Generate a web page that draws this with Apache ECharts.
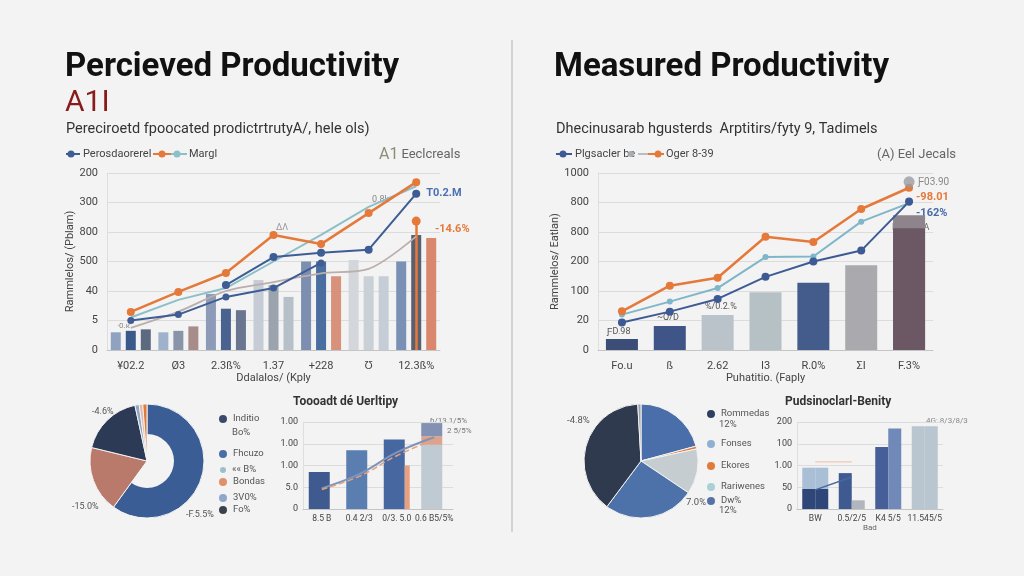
<!DOCTYPE html>
<html><head><meta charset="utf-8">
<script src="https://cdn.jsdelivr.net/npm/echarts@6/dist/echarts.min.js"></script>
<style>html,body{margin:0;padding:0;background:#f3f3f3}#c{width:1024px;height:576px}</style>
</head><body><div id="c"></div><script>
// ---------- data ----------
const leftCats = ['¥02.2', 'Ø3', '2.3ß%', '1.37', '+228', 'Ʊ', '12.3ß%'];
const leftYLabels = ['0', '5', '40', '500', '800', '300', '200'];
const leftBarA = [0.6, 0.6, 1.9, 2.37, 3.0, 3.05, 3.0];
const leftBarB = [0.65, 0.65, 1.4, 2.2, 3.0, 2.5, 3.9];
const leftBarC = [0.7, 0.8, 1.35, 1.8, 2.5, 2.5, 3.8];
const leftOrange = [1.29, 1.97, 2.61, 3.9, 3.59, 4.64, 5.69];
const leftNavyA = [1.0, 1.2, 1.8, 2.1, 2.95, null, null];
const leftNavyB = [null, null, 2.2, 3.15, 3.3, 3.4, 5.3];
const leftTeal = [1.1, 1.7, 2.1, 3.0, 3.9, 4.85, 5.55];
const leftGray = [0.75, 1.3, 2.0, 2.3, 2.6, 2.75, 3.85];
const leftStem = 4.37;

const rightCats = ['Fo.u', 'ß', '2.62', 'I3', 'R.0%', 'ΣI', 'F.3%'];
const rightYLabels = ['0', '20', '100', '200', '800', '800', '1000'];
const rightBars = [0.37, 0.81, 1.19, 1.96, 2.28, 2.87, 4.13];
const rightShadow = [null, null, null, null, null, null, 4.57];
const rightOrange = [1.31, 2.18, 2.45, 3.84, 3.66, 4.78, 5.5];
const rightTeal = [1.2, 1.64, 2.1, 3.15, 3.17, 4.35, 4.98];
const rightNavy = [0.93, 1.3, 1.73, 2.48, 3.0, 3.37, 5.03];
const rightGrayPoint = [null, null, null, null, null, null, 5.7];

const pieLNames = ['Fhcuzo', 'Bondas', 'Inditio', '3V0%', '«« B%', 'Fo%'];
const pieLValues = [60, 18.8, 17.8, 1.2, 1.0, 1.2];

const pieRNames = ['Dw%', 'Ekores', 'Rariwenes', 'Fonses', 'Rommedas', '·'];
const pieRValues = [20.8, 0.8, 12.8, 25.8, 38.9, 0.9];

const smallLCats = ['8.5 B', '0.4 2/3', '0/3. 5.0', '0.6 B5/5%'];
const smallLYLabels = ['0', '5.0', '1.00', '1.00', '1.00'];
const smallLMain = [1.7, 2.7, 3.2, 2.95];
const smallLSalmon = [null, null, null, 0.4];
const smallLSlate = [null, null, null, 0.6];
const smallLOrange = [null, null, 2.0, null];
const smallLLine = [0.95, 1.6, 2.6, 3.3];
const smallLOrangeLine = [0.9, 1.5, 2.45, 3.2];

const smallRCats = ['BW', '0.5/2/5', 'K4 5/5', '11.545/5'];
const smallRYLabels = ['0', '50', '1.00', '100', '200'];
const smallRColA = [0.92, 1.65, 2.85, 3.8];
const smallRColATop = [0.98, null, null, null];
const smallRColB = [0.92, 0.4, 3.7, 3.8];
const smallRColBTop = [0.98, null, null, null];
const smallRLine = [0.88, 1.47, null, null];
const smallROrangeLine = [2.17, 2.17, null, null];

// ---------- styles ----------
const FF = 'Roboto, "Liberation Sans", sans-serif';
const colA = ['#8fa3c0', '#9fb2cc', '#8d9bb8', '#c5ccd5', '#7d8fb0', '#d3d6da', '#7a90b5'];
const colB = ['#3b5a8c', '#8a94a8', '#4a6290', '#9aa3ae', '#4a6ea0', '#c9d0d6', '#5a6070'];
const colC = ['#5c6a80', '#a88c8a', '#6a7590', '#b6c0c8', '#d8917a', '#c5ced6', '#d9886e'];
const colR = ['#3c4d78', '#3f5587', '#b9c3c9', '#b6c1c5', '#435c8b', '#aaa9ad', '#6b5864'];
const colPieL = ['#3a5d96', '#b97a6c', '#2c3a55', '#8ea6c8', '#e3b8a6', '#e07a3a'];
const colPieR = ['#4a6ea9', '#e07b3c', '#c6cdd1', '#4d72aa', '#2f3a4f', '#9aa0a8'];
const colSLMain = ['#3e5a8f', '#5a7eb0', '#4767a0', '#bfcad3'];
const colSRA = ['#2f4678', '#3e5a90', '#465f98', '#b9c6d0'];
const colSRB = ['#2f4678', '#b1b5bd', '#7089b8', '#b9c6d0'];

const withColors = (vals, cols) => vals.map((v, i) => ({ value: v, itemStyle: { color: cols[i] } }));

const axisLbl = { color: '#444', fontSize: 11, fontFamily: FF };
const splitL = { show: true, lineStyle: { color: '#dcdcdc', width: 1 } };

function catAxis(idx, cats, name, gap) {
  return {
    type: 'category', gridIndex: idx, data: cats,
    axisLine: { lineStyle: { color: '#c4c4c4' } }, axisTick: { show: false },
    axisLabel: Object.assign({}, axisLbl, idx > 1 ? { fontSize: 8.5, margin: 5, interval: 0 } : { margin: 11, interval: 0 }),
    name: name || '', nameLocation: 'middle', nameGap: gap || 0,
    nameTextStyle: { color: '#444', fontSize: 11, fontFamily: FF }
  };
}
function valAxis(idx, labels, name, gap) {
  return {
    type: 'value', gridIndex: idx, min: 0, max: labels.length - 1, interval: 1,
    axisLine: { show: true, lineStyle: { color: '#dedede' } }, axisTick: { show: false },
    splitLine: splitL,
    axisLabel: Object.assign({}, axisLbl, idx > 1 ? { fontSize: 9, margin: 5 } : { margin: 9 }, { formatter: v => labels[v] }),
    name: name || '', nameLocation: 'middle', nameGap: gap || 0, nameRotate: 90,
    nameTextStyle: { color: '#444', fontSize: 11, fontFamily: FF }
  };
}
function T(x, y, text, size, color, weight, align) {
  return { type: 'text', x: x, y: y, silent: true,
    style: { text: text, fontSize: size, fill: color, fontFamily: FF, fontWeight: weight || 'normal',
      align: align || 'left', verticalAlign: 'middle' } };
}
function legLine(x1, x2, y, color, dotX) {
  return [
    { type: 'line', silent: true, shape: { x1: x1, y1: y, x2: x2, y2: y }, style: { stroke: color, lineWidth: 2 } },
    { type: 'circle', silent: true, shape: { cx: dotX, cy: y, r: 3.5 }, style: { fill: color } }
  ];
}
function pieLegend(name, x, y, color, size) {
  return {
    data: [{ name: name, itemStyle: { color: color } }], left: x, top: y,
    icon: 'circle', itemWidth: size || 10, itemHeight: size || 10, itemGap: 4, padding: 0,
    selectedMode: false, textStyle: { color: '#555', fontSize: 9.5, fontFamily: FF }
  };
}

const lineBase = (name, data, color, xi, extra) => Object.assign({
  type: 'line', name: name, data: data, xAxisIndex: xi, yAxisIndex: xi,
  lineStyle: { color: color, width: 2 }, itemStyle: { color: color },
  symbol: 'circle', symbolSize: 7, connectNulls: false, z: 5
}, extra || {});

const option = {
  backgroundColor: '#f3f3f3',
  animation: false,
  title: [
    { text: 'Percieved Productivity', left: 65, top: 51, padding: 0, textStyle: { fontSize: 33, fontWeight: 'bold', color: '#111', fontFamily: FF } },
    { text: 'A1I', left: 65, top: 88, padding: 0, textStyle: { fontSize: 30, fontWeight: 'normal', color: '#8a1b1b', fontFamily: FF } },
    { text: 'Perecirоetd fpoocated prodictrtrutyA/, hele ols)', left: 66, top: 122, padding: 0, textStyle: { fontSize: 14.5, fontWeight: 'normal', color: '#333', fontFamily: FF } },
    { text: 'Measured Productivity', left: 554, top: 51, padding: 0, textStyle: { fontSize: 33, fontWeight: 'bold', color: '#111', fontFamily: FF } },
    { text: 'Dhecinusarab hgusterds  Arptitirs/fyty 9, Tadimels', left: 556, top: 122, padding: 0, textStyle: { fontSize: 14.5, fontWeight: 'normal', color: '#333', fontFamily: FF } },
    { text: 'Toooadt dé Uerltipy', left: 293, top: 396, padding: 0, textStyle: { fontSize: 12, fontWeight: 'bold', color: '#333', fontFamily: FF } },
    { text: 'Pudsinoclarl-Benity', left: 785, top: 396, padding: 0, textStyle: { fontSize: 12, fontWeight: 'bold', color: '#333', fontFamily: FF } }
  ],
  legend: [
    pieLegend('Inditio', 217, 413, '#3a4a6a'),
    pieLegend('Fhcuzo', 217, 448, '#4a6fa8'),
    pieLegend('«« B%', 218, 465, '#9cc0c8', 8),
    pieLegend('Bondas', 217, 476, '#e0906a'),
    pieLegend('3V0%', 217, 492, '#8ea6c8'),
    pieLegend('Fo%', 217, 504, '#3c414c'),
    pieLegend('Rommedas', 705, 408, '#2f3f62'),
    pieLegend('Fonses', 705, 438, '#8fb0d0'),
    pieLegend('Ekores', 705, 460, '#e07b3c'),
    pieLegend('Rariwenes', 705, 481, '#a8d0d6'),
    pieLegend('Dw%', 705, 495, '#5673a8')
  ],
  grid: [
    { left: 107, top: 173, width: 333, height: 177 },
    { left: 598, top: 173, width: 335, height: 177 },
    { left: 303, top: 422, width: 150, height: 87 },
    { left: 797, top: 422, width: 146, height: 87 }
  ],
  xAxis: [
    catAxis(0, leftCats, 'Ddalalos/ (Kply', 20),
    catAxis(1, rightCats, 'Puhatitio. (Faply', 19),
    catAxis(2, smallLCats),
    catAxis(3, smallRCats)
  ],
  yAxis: [
    valAxis(0, leftYLabels, 'Rammlelos/ (Pblam)', 30),
    valAxis(1, rightYLabels, 'Rammlelos/ Eatlan)', 32),
    valAxis(2, smallLYLabels),
    valAxis(3, smallRYLabels)
  ],
  series: [
    // ---- top left ----
    { type: 'bar', name: 'a', xAxisIndex: 0, yAxisIndex: 0, barWidth: 10, barGap: '50%', data: withColors(leftBarA, colA) },
    { type: 'bar', name: 'b', xAxisIndex: 0, yAxisIndex: 0, barWidth: 10, barGap: '50%', data: withColors(leftBarB, colB) },
    { type: 'bar', name: 'c', xAxisIndex: 0, yAxisIndex: 0, barWidth: 10, barGap: '50%', data: withColors(leftBarC, colC) },
    lineBase('gray', leftGray, '#bcaeab', 0, { smooth: 0.3, showSymbol: false, lineStyle: { color: '#bcaeab', width: 1.8 } }),
    lineBase('Margl', leftTeal, '#8cc0c8', 0, { showSymbol: false, lineStyle: { color: '#8cc0c8', width: 2 } }),
    lineBase('Perosdaorerel', leftNavyA, '#3d5d94', 0, { symbolSize: 7 }),
    lineBase('navyB', leftNavyB, '#3d5d94', 0, { symbolSize: 8, endLabel: { show: true, formatter: 'T0.2.M', color: '#4a70b0', fontSize: 11, fontWeight: 'bold', fontFamily: FF, distance: 10 } }),
    lineBase('orange', leftOrange, '#e5793a', 0, { symbolSize: 8, lineStyle: { color: '#e5793a', width: 2.5 }, z: 6,
      markLine: { silent: true, symbol: ['none', 'circle'], symbolSize: 9,
        lineStyle: { color: '#e5793a', width: 2.5, type: 'solid' },
        label: { show: true, position: 'end', formatter: '-14.6%', color: '#e5793a', fontSize: 11, fontWeight: 'bold', fontFamily: FF, distance: [0, 0], offset: [36, 14] },
        data: [[{ coord: [6, 0] }, { coord: [6, leftStem] }]] } }),
    // ---- top right ----
    { type: 'bar', name: 'shadow', xAxisIndex: 1, yAxisIndex: 1, barWidth: 32, data: rightShadow, itemStyle: { color: '#8d848c' } },
    { type: 'bar', name: 'rb', xAxisIndex: 1, yAxisIndex: 1, barWidth: 32, barGap: '-100%', data: withColors(rightBars, colR) },
    lineBase('teal', rightTeal, '#7fb6c9', 1, { showSymbol: true, symbolSize: 6, lineStyle: { color: '#7fb6c9', width: 2 } }),
    lineBase('Plgsacler be', rightNavy, '#3d5a95', 1, { symbolSize: 8 }),
    lineBase('Oger 8-39', rightOrange, '#e5793a', 1, { symbolSize: 8, lineStyle: { color: '#e5793a', width: 2.5 }, z: 6 }),
    { type: 'scatter', name: 'gp', xAxisIndex: 1, yAxisIndex: 1, data: rightGrayPoint, symbolSize: 11, itemStyle: { color: '#9a9ca4' }, z: 7 },
    // ---- bottom left pie ----
    { type: 'pie', name: 'pieL', center: [147, 461], radius: [0, 57], startAngle: 90, silent: true,
      label: { show: false }, labelLine: { show: false },
      itemStyle: { borderColor: '#f3f3f3', borderWidth: 1 },
      data: pieLNames.map((n, i) => ({ name: n, value: pieLValues[i], itemStyle: { color: colPieL[i] } })) },
    { type: 'pie', name: 'pieHole', center: [147, 461], radius: [0, 27], startAngle: 90, silent: true,
      label: { show: false }, labelLine: { show: false }, legendHoverLink: false,
      data: pieLNames.map((n, i) => ({ name: n + ' ', value: pieLValues[i], itemStyle: { color: i === 0 ? '#f3f3f3' : 'rgba(0,0,0,0)' } })) },
    // ---- bottom right pie ----
    { type: 'pie', name: 'pieR', center: [641, 461], radius: [0, 57], startAngle: 90, silent: true,
      label: { show: false }, labelLine: { show: false },
      itemStyle: { borderColor: '#f3f3f3', borderWidth: 1 },
      data: pieRNames.map((n, i) => ({ name: n, value: pieRValues[i], itemStyle: { color: colPieR[i] } })) },
    // ---- bottom left small bars ----
    { type: 'bar', name: 'slm', xAxisIndex: 2, yAxisIndex: 2, stack: 'sl', barWidth: 21, barGap: '0%', data: withColors(smallLMain, colSLMain) },
    { type: 'bar', name: 'sls', xAxisIndex: 2, yAxisIndex: 2, stack: 'sl', barWidth: 21, data: smallLSalmon, itemStyle: { color: '#dca48e' } },
    { type: 'bar', name: 'slt', xAxisIndex: 2, yAxisIndex: 2, stack: 'sl', barWidth: 21, data: smallLSlate, itemStyle: { color: '#8391b3' } },
    { type: 'bar', name: 'slo', xAxisIndex: 2, yAxisIndex: 2, barWidth: 5, barGap: '0%', data: smallLOrange, itemStyle: { color: '#e8a080' } },
    lineBase('sll', smallLLine, '#7e94b8', 2, { smooth: 0.4, showSymbol: false, lineStyle: { color: '#7e94b8', width: 2 } }),
    lineBase('slol', smallLOrangeLine, '#e8a07a', 2, { smooth: 0.4, showSymbol: false, lineStyle: { color: '#e8a07a', width: 1.5, type: 'dashed' } }),
    // ---- bottom right small bars ----
    { type: 'bar', name: 'sra', xAxisIndex: 3, yAxisIndex: 3, stack: 'ra', barWidth: 13, barGap: '0%', data: withColors(smallRColA, colSRA) },
    { type: 'bar', name: 'srat', xAxisIndex: 3, yAxisIndex: 3, stack: 'ra', barWidth: 13, data: smallRColATop, itemStyle: { color: '#a9bfd5' } },
    { type: 'bar', name: 'srb', xAxisIndex: 3, yAxisIndex: 3, stack: 'rb', barWidth: 13, barGap: '0%', data: withColors(smallRColB, colSRB) },
    { type: 'bar', name: 'srbt', xAxisIndex: 3, yAxisIndex: 3, stack: 'rb', barWidth: 13, data: smallRColBTop, itemStyle: { color: '#a9bfd5' } },
    lineBase('srl', smallRLine, '#4a68a0', 3, { showSymbol: false, lineStyle: { color: '#4a68a0', width: 1.5 } }),
    lineBase('srol', smallROrangeLine, '#f0c8b0', 3, { showSymbol: false, lineStyle: { color: '#f0c8b0', width: 1.2 }, z: 1 })
  ],
  graphic: [
    { type: 'line', silent: true, shape: { x1: 512, y1: 40, x2: 512, y2: 532 }, style: { stroke: '#c9c9c9', lineWidth: 1.5 } },
    // left legend
    ...legLine(66, 80, 154, '#3d5d94', 71),
    T(83, 154, 'Perosdaorerel', 11, '#444'),
    ...legLine(153, 171, 154, '#e5793a', 162),
    ...legLine(171, 187, 154, '#8cc0c8', 177),
    T(189, 154, 'Margl', 11, '#444'),
    { type: 'text', x: 379, y: 155, silent: true, style: { text: '{a|A1} {b|Eeclcreals}', fontFamily: FF, verticalAlign: 'middle',
      rich: { a: { fontSize: 16, fill: '#8a8f7a', fontFamily: FF }, b: { fontSize: 13, fill: '#666', fontFamily: FF } } } },
    // right legend
    ...legLine(556, 572, 154, '#3d5a95', 563),
    T(575, 154, 'Plgsacler be', 11, '#444'),
    { type: 'circle', silent: true, shape: { cx: 631, cy: 154, r: 3 }, style: { fill: '#a9adb3' } },
    { type: 'line', silent: true, shape: { x1: 638, y1: 154, x2: 648, y2: 154 }, style: { stroke: '#b8bcc2', lineWidth: 2 } },
    ...legLine(648, 664, 154, '#e5793a', 658),
    T(666, 154, 'Oger 8-39', 11, '#444'),
    T(877, 155, '(A) Eel Jecals', 13, '#666'),
    // left chart small labels
    T(372, 200, '0.8k', 9, '#888'),
    T(276, 228, 'ΔΛ', 9, '#999'),
    T(117, 326, '·0.к', 8, '#888'),
    // right chart labels
    T(918, 182, 'Ƒ03.90', 10, '#888'),
    T(916, 197, '-98.01', 11, '#e5793a', 'bold'),
    T(916, 213, '-162%', 11, '#4a6aa6', 'bold'),
    T(892, 228, 'K(3/Σ.%A', 9, '#666'),
    T(607, 332, 'ƑD.98', 9, '#555'),
    T(657, 318, '~Q/D', 9, '#555'),
    T(705, 307, '%/0.2.%', 9, '#555'),
    // left pie labels
    T(92, 412, '-4.6%', 9, '#555'),
    T(102, 440, '-09.5.3%', 9, '#d6dbe6'),
    T(72, 507, '-15.0%', 9, '#555'),
    T(186, 515, '-F.5.5%', 9, '#555'),
    T(232, 433, 'Bo%', 9.5, '#555'),
    // right pie labels
    T(567, 421, '-4.8%', 9.5, '#555'),
    T(604, 428, '·603%', 9.5, '#e6e9ee'),
    T(597, 440, '+1.5%', 9.5, '#e6e9ee'),
    T(682, 439, '5%', 9.5, '#dde3ee'),
    T(686, 503, '7.0%', 9.5, '#555'),
    T(719, 425, '12%', 9.5, '#555'),
    T(719, 511, '12%', 9.5, '#555'),
    // small chart labels
    T(430, 421, 'ɓ/13.1/5%', 8, '#777'),
    T(447, 431, '2 5/5%', 8, '#777'),
    T(926, 421, '4G: 8/3/8/3', 8, '#888'),
    T(863, 528, 'Bad', 8, '#666')
  ]
};

const chart = echarts.init(document.getElementById('c'));
chart.setOption(option);
</script></body></html>
